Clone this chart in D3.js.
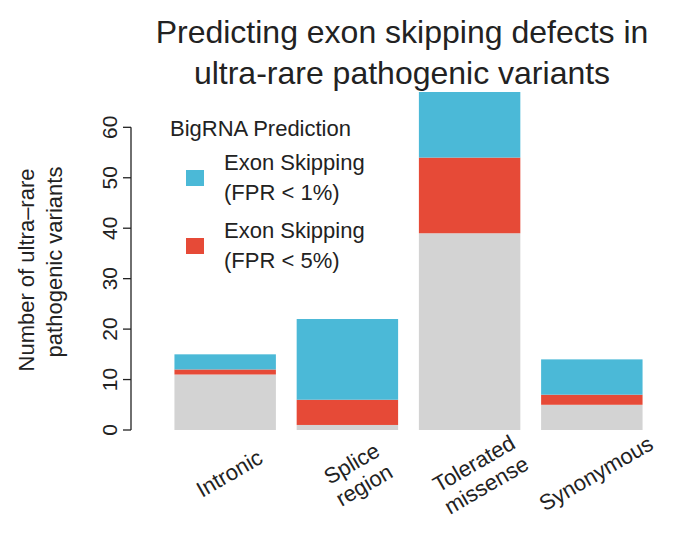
<!DOCTYPE html>
<html><head><meta charset="utf-8">
<script src="https://cdn.jsdelivr.net/npm/d3@7"></script>
<style>body{margin:0;background:#fff}text{font-family:"Liberation Sans",Arial,sans-serif;fill:#222}</style>
</head><body><div id="plot"></div>
<script>
var categories = ["Intronic", "Splice\nregion", "Tolerated\nmissense", "Synonymous"];
var grayVals = [11, 1, 39, 5];
var redVals = [1, 5, 15, 2];
var blueVals = [3, 16, 13, 7];
var yTicks = [0, 10, 20, 30, 40, 50, 60];

var colors = {gray: "#d3d3d3", red: "#e64a37", blue: "#4bb9d7"};

var svg = d3.select("#plot").append("svg").attr("width", 680).attr("height", 536);

var x = d3.scaleBand().domain(d3.range(categories.length)).range([150, 667]).paddingInner(0.17).paddingOuter(0.2);
var y = d3.scaleLinear().domain([0, 67]).range([430, 92]);

// title
svg.append("text").attr("x", 402).attr("y", 43).attr("text-anchor", "middle")
    .style("font-size", "32px").text("Predicting exon skipping defects in");
svg.append("text").attr("x", 402).attr("y", 84).attr("text-anchor", "middle")
    .style("font-size", "32px").text("ultra-rare pathogenic variants");

// bars
var g = svg.append("g");
categories.forEach(function(c, i){
    var segs = [[grayVals[i], colors.gray], [redVals[i], colors.red], [blueVals[i], colors.blue]];
    var base = 0;
    segs.forEach(function(s){
        g.append("rect")
            .attr("x", x(i)).attr("width", x.bandwidth())
            .attr("y", y(base + s[0])).attr("height", y(base) - y(base + s[0]))
            .style("fill", s[1]);
        base += s[0];
    });
});

// y axis
var ax = svg.append("g").attr("transform", "translate(131,0)");
ax.append("line").attr("x1", 0).attr("x2", 0).attr("y1", y(0)).attr("y2", y(60)).style("stroke", "#222").style("stroke-width", 1.3);
ax.selectAll(".tick").data(yTicks).enter().append("line")
    .attr("x1", -8).attr("x2", 0).attr("y1", function(d){ return y(d); }).attr("y2", function(d){ return y(d); })
    .style("stroke", "#222").style("stroke-width", 1.3);
ax.selectAll(".tl").data(yTicks).enter().append("text")
    .attr("transform", function(d){ return "translate(-14," + y(d) + ") rotate(-90)"; })
    .attr("text-anchor", "middle").style("font-size", "21px").text(function(d){ return d; });

svg.append("text").attr("transform", "translate(34,270) rotate(-90)").attr("text-anchor", "middle")
    .style("font-size", "22px").text("Number of ultra\u2013rare");
svg.append("text").attr("transform", "translate(62,262) rotate(-90)").attr("text-anchor", "middle")
    .style("font-size", "22px").text("pathogenic variants");

// x labels
categories.forEach(function(c, i){
    var lines = c.split("\n");
    var t = svg.append("text")
        .attr("transform", "translate(" + (x(i) + x.bandwidth()/2 + 8) + "," + (lines.length > 1 ? 470 : 480) + ") rotate(-30)")
        .attr("text-anchor", "middle").style("font-size", "22px");
    lines.forEach(function(l, j){
        t.append("tspan").attr("x", 0).attr("dy", j === 0 ? 0 : 25).text(l);
    });
});

// legend
svg.append("text").attr("x", 170).attr("y", 136).style("font-size", "22px").text("BigRNA Prediction");
var legend = [[colors.blue, "Exon Skipping", "(FPR < 1%)"], [colors.red, "Exon Skipping", "(FPR < 5%)"]];
legend.forEach(function(l, i){
    var oy = i * 68;
    svg.append("rect").attr("x", 186).attr("y", 170 + oy).attr("width", 18).attr("height", 16).style("fill", l[0]);
    svg.append("text").attr("x", 224).attr("y", 170 + oy).style("font-size", "22px").text(l[1]);
    svg.append("text").attr("x", 224).attr("y", 200 + oy).style("font-size", "22px").text(l[2]);
});
</script></body></html>
